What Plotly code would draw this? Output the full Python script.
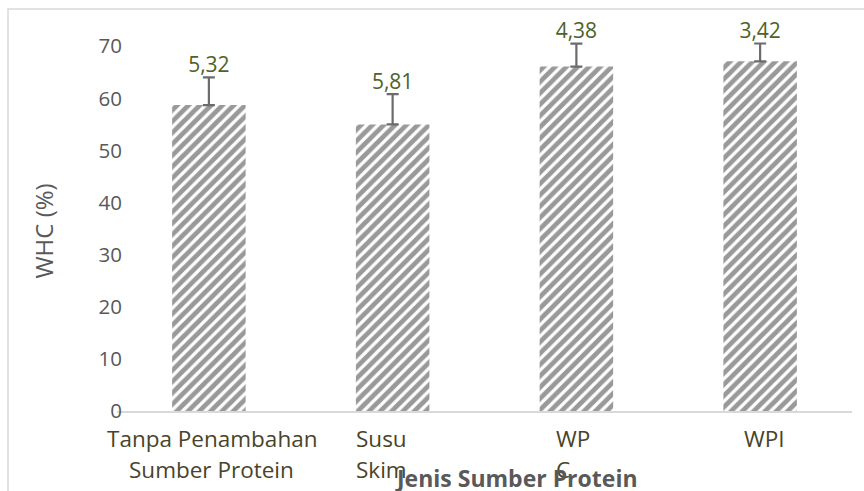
import plotly.graph_objects as go

categories = ["Tanpa Penambahan Sumber Protein", "Susu Skim", "WPC", "WPI"]
whc_values = [58.7, 55.0, 66.1, 67.1]
sd_values = [5.32, 5.81, 4.38, 3.42]
sd_labels = ["5,32", "5,81", "4,38", "3,42"]
y_ticks = [0, 10, 20, 30, 40, 50, 60, 70]

# category label lines as they appear (wrapped) under each bar
label_lines = [
    ["Tanpa Penambahan", "Sumber Protein"],
    ["Susu", "Skim"],
    ["WP", "C"],
    ["WPI"],
]

FONT = "'Open Sans', sans-serif"

fig = go.Figure()
fig.add_trace(go.Bar(
    x=categories, y=whc_values,
    marker=dict(color="white", line=dict(width=0),
                pattern=dict(shape="/", fgcolor="#333333", bgcolor="white",
                             size=8, solidity=0.6)),
    error_y=dict(type="data", array=sd_values, arrayminus=[0]*4, symmetric=False,
                 color="#6b6b6b", thickness=2.2, width=6),
    showlegend=False,
))
fig.add_trace(go.Scatter(
    x=categories, y=[v + s for v, s in zip(whc_values, sd_values)],
    mode="text", text=sd_labels, textposition="top center",
    textfont=dict(color="#4F6228", size=21, family=FONT),
    cliponaxis=False, showlegend=False, hoverinfo="skip",
))

# category labels
anchors = ["center", "left", "left", "center"]
shifts = [3, -39, -22, 4]
ys = [-0.073, -0.159]
for i, lines in enumerate(label_lines):
    for j, line in enumerate(lines):
        fig.add_annotation(
            x=categories[i], xref="x", y=ys[j], yref="paper",
            text=line, showarrow=False, xanchor=anchors[i], yanchor="middle",
            xshift=shifts[i],
            font=dict(size=22.5, color="#494429", family=FONT),
        )

fig.add_annotation(
    x=0.5435, xref="paper", y=-0.182, yref="paper", text="<b>Jenis Sumber Protein</b>",
    showarrow=False, xanchor="center", yanchor="middle",
    font=dict(size=23, color="#595959", family=FONT),
)

fig.add_annotation(
    x=-0.0993, xref="paper", y=0.485, yref="paper", text="WHC (%)", textangle=-90,
    showarrow=False, xanchor="center", yanchor="middle",
    font=dict(size=24, color="#595959", family=FONT),
)

# outer chart frame (partially cropped in the picture)
fig.add_shape(type="rect", xref="paper", yref="paper",
              x0=-0.1483, x1=1.2, y0=-0.5, y1=1.0865,
              line=dict(color="#d9d9d9", width=1.5), fillcolor="rgba(0,0,0,0)")

fig.update_layout(
    width=864, height=491,
    margin=dict(l=117, r=12, t=41, b=80),
    paper_bgcolor="white", plot_bgcolor="white",
    bargap=0.6,
    font=dict(family=FONT),
    xaxis=dict(showticklabels=False, showline=True, linecolor="#d9d9d9", linewidth=1.5,
               ticks="", showgrid=False, range=[-0.5, 3.5], automargin=False),
    yaxis=dict(range=[0, 71], tickvals=y_ticks, showgrid=False, showline=False,
               zeroline=False, ticks="", ticklabelstandoff=-6, automargin=False,
               tickfont=dict(size=20.5, color="#595959", family=FONT)),
)

fig.write_html("out.html", post_script="document.body.style.margin='0';",
               config={"displayModeBar": False})
